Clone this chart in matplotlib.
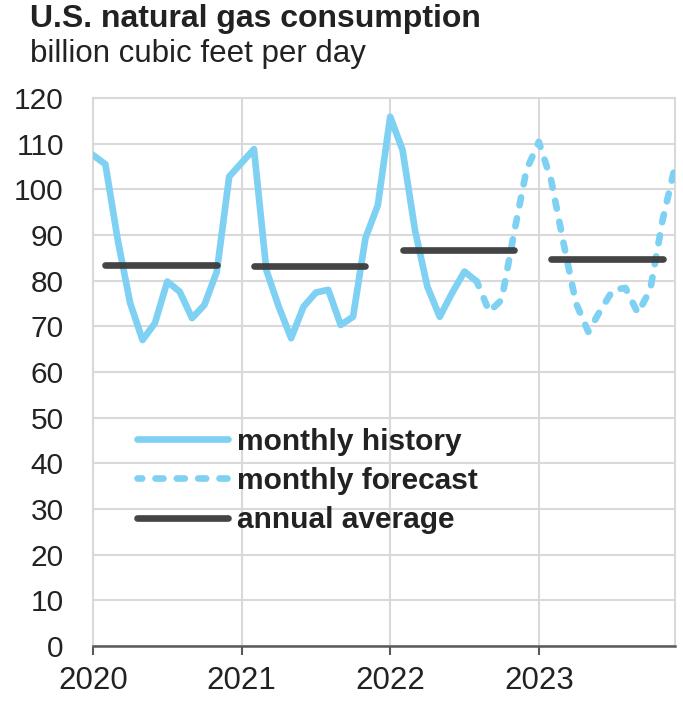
import matplotlib.pyplot as plt
import numpy as np

# data <<<
years = ["2020", "2021", "2022", "2023"]

# monthly consumption, Jan 2020 .. Aug 2022 (history)
history = [107.5, 105.5, 88.9, 75.1, 67.0, 70.7, 79.8, 77.6, 71.8, 74.7, 82.0, 102.8,
           105.8, 108.8, 82.3, 74.3, 67.4, 74.3, 77.4, 78.0, 70.3, 72.1, 89.3, 96.5,
           115.9, 108.6, 91.1, 78.7, 72.1, 77.3, 82.0, 79.8]

# Aug 2022 .. Dec 2023 (forecast)
forecast = [79.8, 73.2, 75.8, 90.4, 104.2,
            110.4, 102.0, 88.2, 75.1, 68.8, 73.6, 78.0, 78.4, 72.9, 78.0, 93.3, 105.0]

annual_avg = [83.4, 83.2, 86.7, 84.7]
# >>>

plt.rcParams["font.family"] = ["Liberation Sans", "DejaVu Sans"]

blue = "#7FD1F3"
dark = "#3A3A3A"
grid = "#D9D9D9"
txt = "#222222"
lw = 4.8

fig = plt.figure(figsize=(6.83, 7.03), dpi=100)
ax = fig.add_axes([93 / 683, 1 - 646 / 703, 582 / 683, 548 / 703])

x_hist = np.arange(len(history))
x_fc = np.arange(len(history) - 1, len(history) - 1 + len(forecast))

ax.plot(x_hist, history, color=blue, lw=lw, solid_capstyle="round",
        solid_joinstyle="round", label="monthly history", zorder=3)
ax.plot(x_fc, forecast, color=blue, lw=lw, ls=(0.5, (1.2, 2.0)),
        dash_capstyle="round", label="monthly forecast", zorder=3)
for i, v in enumerate(annual_avg):
    ax.plot([12 * i + 1, 12 * i + 10], [v, v], color=dark, lw=lw,
            solid_capstyle="round", alpha=0.95, zorder=4,
            label="annual average" if i == 0 else None)

ax.set_xlim(0, 47)
ax.set_ylim(0, 120)
ax.set_yticks(range(0, 121, 10))
ax.set_xticks([0, 12, 24, 36])
ax.set_xticklabels(years)
ax.tick_params(axis="y", length=0, pad=21, labelsize=21.5, labelcolor=txt)
ax.tick_params(axis="x", length=6.5, width=1.5, color="#595959", pad=8,
               labelsize=22.5, labelcolor=txt)
ax.grid(True, color=grid, lw=1.5, zorder=0)
for s in ["left", "top", "right"]:
    ax.spines[s].set_color(grid)
    ax.spines[s].set_linewidth(1.5)
ax.spines["bottom"].set_color("#595959")
ax.spines["bottom"].set_linewidth(1.8)
ax.set_axisbelow(True)

leg = ax.legend(loc="upper left", bbox_to_anchor=(0.0756, 0.398), frameon=False,
                borderpad=0, borderaxespad=0, handlelength=3.05, handletextpad=0.3,
                labelspacing=0.37, prop={"weight": "bold", "size": 21.5})
for t in leg.get_texts():
    t.set_color(txt)

fig.text(30 / 683, 1 - 27 / 703, "U.S. natural gas consumption", fontsize=23,
         fontweight="bold", color=txt, va="baseline")
fig.text(30 / 683, 1 - 62 / 703, "billion cubic feet per day", fontsize=22.5,
         color=txt, va="baseline")

plt.savefig("out.png", dpi=100)
